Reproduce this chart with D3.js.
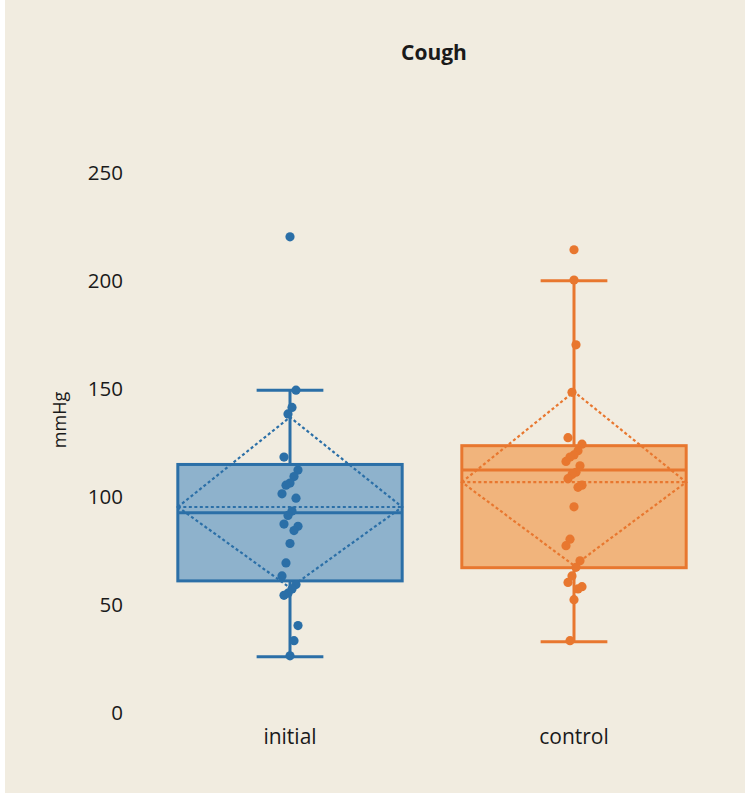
<!DOCTYPE html>
<html>
<head>
<meta charset="utf-8">
<script src="https://cdn.jsdelivr.net/npm/d3@7"></script>
<style>
  html, body { margin: 0; padding: 0; background: #ffffff; }
  svg { display: block; }
  text { font-family: "Open Sans", "Noto Sans", sans-serif; fill: #1a1a1a; }
</style>
</head>
<body>
<svg id="chart" width="745" height="800"></svg>
<script>
// ---- data ----
const categories = ["initial", "control"];
const initialValues = [220, 149, 141, 138, 118, 112, 109, 106, 105, 101, 99, 93, 91, 87, 86, 84, 78, 69, 63, 59, 57, 55, 54, 40, 33, 26];
const controlValues = [214, 200, 170, 148, 127, 124, 121, 119, 118, 116, 114, 111, 110, 108, 105, 104, 95, 80, 77, 70, 67, 63, 60, 58, 57, 52, 33];
const q1 = [60.7, 66.8];
const medians = [92.2, 112];
const q3 = [114.6, 123.3];
const whiskerLow = [25.6, 32.5];
const whiskerHigh = [149, 199.7];
const means = [94.9, 106.4];
const sdUpper = [136.5, 148.3];
const sdLower = [57.5, 67.8];
const yTicks = [0, 50, 100, 150, 200, 250];
const title = "Cough";
const yLabel = "mmHg";

const seriesValues = [initialValues, controlValues];
const strokeColors = ["#2b6fa7", "#e8772f"];
const fillColors = ["#8eb2cc", "#f1b47c"];

// ---- layout ----
const svg = d3.select("#chart");
svg.append("rect").attr("x", 5).attr("y", 0).attr("width", 740).attr("height", 793).attr("fill", "#f1ece0");

const y = d3.scaleLinear().domain([0, 250]).range([712, 172]);
const x = d3.scaleBand().domain(categories).range([148, 716]).paddingInner(0).paddingOuter(0);
const bw = x.bandwidth();
const boxW = bw * 0.79;
const capW = bw * 0.235;

// title
svg.append("text").attr("x", 434).attr("y", 60).attr("text-anchor", "middle")
  .attr("font-size", 21).attr("font-weight", "bold").text(title);

// y axis
const yAxis = d3.axisLeft(y).tickValues(yTicks).tickSize(0).tickPadding(0).tickFormat(d3.format("d"));
const gy = svg.append("g").attr("transform", "translate(123,0)").call(yAxis);
gy.select(".domain").remove();
gy.selectAll("text").attr("font-size", 20.5).attr("font-family", "'Open Sans', sans-serif").attr("fill", "#1a1a1a").attr("dy", "0.35em");

svg.append("text").attr("transform", "translate(66,420) rotate(-90)").attr("text-anchor", "middle")
  .attr("font-size", 18).text(yLabel);

// x axis
const xAxis = d3.axisBottom(x).tickSize(0).tickPadding(0);
const gx = svg.append("g").attr("transform", "translate(0,727)").call(xAxis);
gx.select(".domain").remove();
gx.selectAll("text").attr("font-size", 21).attr("font-family", "'Open Sans', sans-serif").attr("fill", "#1a1a1a").attr("dy", "0.8em");

// boxes
categories.forEach((cat, i) => {
  const cx = x(cat) + bw / 2;
  const g = svg.append("g");
  const col = strokeColors[i];
  // whiskers
  g.append("line").attr("x1", cx).attr("x2", cx).attr("y1", y(whiskerHigh[i])).attr("y2", y(q3[i]))
    .attr("stroke", col).attr("stroke-width", 3);
  g.append("line").attr("x1", cx).attr("x2", cx).attr("y1", y(q1[i])).attr("y2", y(whiskerLow[i]))
    .attr("stroke", col).attr("stroke-width", 3);
  [whiskerHigh[i], whiskerLow[i]].forEach(v => {
    g.append("line").attr("x1", cx - capW / 2).attr("x2", cx + capW / 2).attr("y1", y(v)).attr("y2", y(v))
      .attr("stroke", col).attr("stroke-width", 3);
  });
  // box
  g.append("rect").attr("x", cx - boxW / 2).attr("y", y(q3[i])).attr("width", boxW)
    .attr("height", y(q1[i]) - y(q3[i])).attr("fill", fillColors[i]).attr("stroke", col).attr("stroke-width", 3);
  // median
  g.append("line").attr("x1", cx - boxW / 2).attr("x2", cx + boxW / 2).attr("y1", y(medians[i])).attr("y2", y(medians[i]))
    .attr("stroke", col).attr("stroke-width", 3);
  // mean (dashed)
  g.append("line").attr("x1", cx - boxW / 2).attr("x2", cx + boxW / 2).attr("y1", y(means[i])).attr("y2", y(means[i]))
    .attr("stroke", col).attr("stroke-width", 2.2).attr("stroke-dasharray", "3,2.5");
  // diamond (mean ± SD)
  const pts = [[cx - boxW / 2, y(means[i])], [cx, y(sdUpper[i])], [cx + boxW / 2, y(means[i])], [cx, y(sdLower[i])]];
  g.append("path").attr("d", d3.line()(pts) + "Z").attr("fill", "none").attr("stroke", col)
    .attr("stroke-width", 2.2).attr("stroke-dasharray", "3,2.5");
  // points
  g.selectAll("circle").data(seriesValues[i]).join("circle")
    .attr("cx", (d, j) => cx + (d > whiskerHigh[i] ? 0 : ((j * 7) % 9 - 4) * 2))
    .attr("cy", d => y(d)).attr("r", 4.6).attr("fill", col);
});
</script>
</body>
</html>
